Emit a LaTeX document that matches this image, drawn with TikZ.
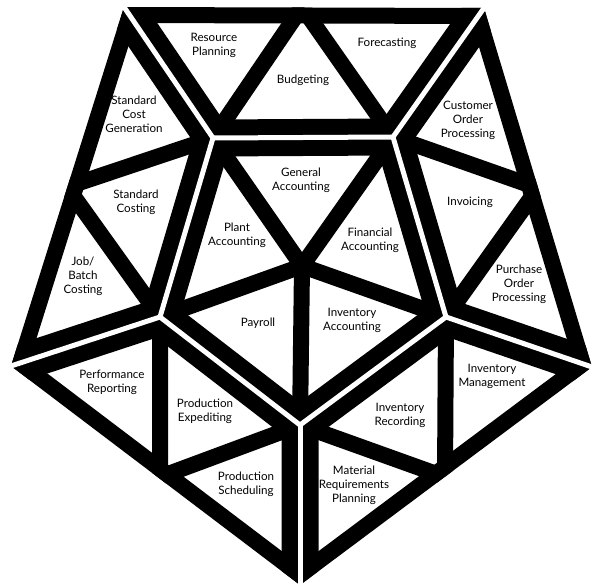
\documentclass[tikz,border=0pt]{standalone}
\usepackage{fontspec}
\setmainfont{Lato}
\begin{document}
\begin{tikzpicture}[x=1pt, y=-1pt]
    % Styles
    \tikzstyle{lbl} = [align=center, inner sep=0pt, font=\fontsize{11.6}{14}\selectfont]
    \tikzstyle{outerrim} = [line width=32pt, line join=miter]
    \tikzstyle{gaprim} = [line width=37pt, line join=miter]
    \tikzstyle{divider} = [line width=16pt, line cap=round]
    \tikzstyle{gapline} = [white, line width=5pt, line join=miter]

    \useasboundingbox (0,0) rectangle (595,586);

    % Outer corners
    \coordinate (V1) at (124,7);
    \coordinate (V2) at (484,8);
    \coordinate (V3) at (592,367);
    \coordinate (V4) at (300,585);
    \coordinate (V5) at (11,366);

    % Inner corners
    \coordinate (W1) at (213,138);
    \coordinate (W2) at (393,137);
    \coordinate (W3) at (446,317);
    \coordinate (W4) at (300,425);
    \coordinate (W5) at (160,317);

    % Split points
    \coordinate (M) at (302,7);
    \coordinate (P) at (67,187);
    \coordinate (Q) at (538,188);
    \coordinate (T) at (445,477);
    \coordinate (S) at (160,477);
    \coordinate (O) at (302,266);

    % Top
    \begin{scope}
        \clip (V1) -- (V2) -- (W2) -- (W1) -- cycle;
        \draw[outerrim] (V1) -- (V2);
        \draw[gaprim] (V2) -- (W2) -- (W1) -- (V1);
        \draw[divider] (W1) -- (M) -- (W2);
    \end{scope}

    % Left
    \begin{scope}
        \clip (V1) -- (W1) -- (W5) -- (V5) -- cycle;
        \draw[outerrim] (V5) -- (V1);
        \draw[gaprim] (V1) -- (W1) -- (W5) -- (V5);
        \draw[divider] (W1) -- (P) -- (W5);
    \end{scope}

    % Right
    \begin{scope}
        \clip (V2) -- (V3) -- (W3) -- (W2) -- cycle;
        \draw[outerrim] (V2) -- (V3);
        \draw[gaprim] (V3) -- (W3) -- (W2) -- (V2);
        \draw[divider] (W2) -- (Q) -- (W3);
    \end{scope}

    % Bottom left
    \begin{scope}
        \clip (V5) -- (W5) -- (W4) -- (V4) -- cycle;
        \draw[outerrim] (V4) -- (V5);
        \draw[gaprim] (V5) -- (W5) -- (W4) -- (V4);
        \draw[divider] (W5) -- (S) -- (W4);
    \end{scope}

    % Bottom right
    \begin{scope}
        \clip (V3) -- (V4) -- (W4) -- (W3) -- cycle;
        \draw[outerrim] (V3) -- (V4);
        \draw[gaprim] (V4) -- (W4) -- (W3) -- (V3);
        \draw[divider] (W3) -- (T) -- (W4);
    \end{scope}

    % Centre
    \begin{scope}
        \clip (W1) -- (W2) -- (W3) -- (W4) -- (W5) -- cycle;
        \draw[gaprim] (W1) -- (W2) -- (W3) -- (W4) -- (W5) -- cycle;
        \foreach \i in {1,...,5}
            \draw[divider] (O) -- (W\i);
    \end{scope}

    % Gaps
    \draw[gapline] (W1) -- (W2) -- (W3) -- (W4) -- (W5) -- cycle;
    \foreach \i in {1,...,5}
        \draw[gapline, shorten <=-4pt] (V\i) -- (W\i);

    % Labels
    \node[lbl] (resplan) at (214,45) {Resource\\Planning};
    \node[lbl] (budget) at (303,80) {Budgeting};
    \node[lbl] (forecast) at (387,43) {Forecasting};
    \node[lbl] (stdgen) at (134,114) {Standard\\Cost\\Generation};
    \node[lbl] (stdcost) at (136,202) {Standard\\Costing};
    \node[lbl] (jobcost) at (83,276) {Job/\\Batch\\Costing};
    \node[lbl] (custord) at (468,120) {Customer\\Order\\Processing};
    \node[lbl] (invoice) at (470,202) {Invoicing};
    \node[lbl] (purchord) at (519,284) {Purchase\\Order\\Processing};
    \node[lbl] (genacc) at (301,180) {General\\Accounting};
    \node[lbl] (plantacc) at (237,235) {Plant\\Accounting};
    \node[lbl] (finacc) at (370,240) {Financial\\Accounting};
    \node[lbl] (payroll) at (258,323) {Payroll};
    \node[lbl] (invacc) at (352,320) {Inventory\\Accounting};
    \node[lbl] (perfrep) at (112,382) {Performance\\Reporting};
    \node[lbl] (prodexp) at (205,411) {Production\\Expediting};
    \node[lbl] (prodsched) at (246,484) {Production\\Scheduling};
    \node[lbl] (invmgmt) at (492,376) {Inventory\\Management};
    \node[lbl] (invrec) at (400,415) {Inventory\\Recording};
    \node[lbl] (matreq) at (354,485) {Material\\Requirements\\Planning};
\end{tikzpicture}
\end{document}
